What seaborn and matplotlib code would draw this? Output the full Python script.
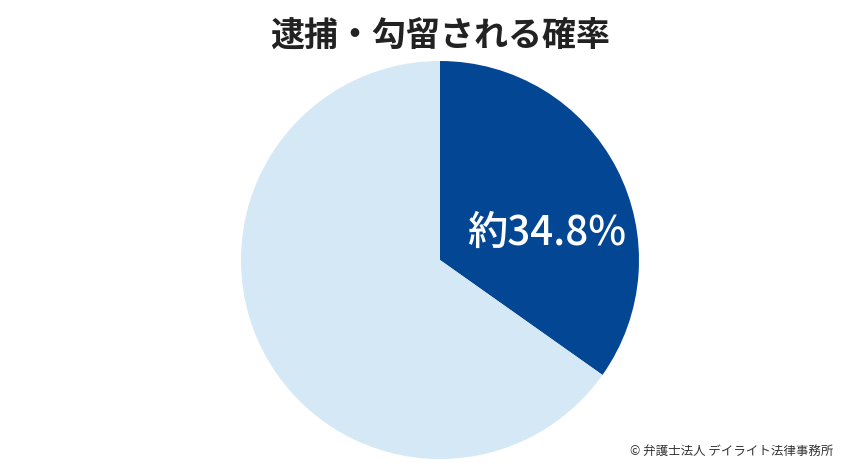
import matplotlib
matplotlib.use("Agg")
import matplotlib.pyplot as plt
import seaborn as sns

title = "逮捕・勾留される確率"
labels = ["逮捕・勾留される", "それ以外"]
shares = [34.8, 65.2]
colors = ["#034694", "#d4e8f6"]
value_label = "約34.8%"
credit = "© 弁護士法人 デイライト法律事務所"

sns.set_theme(style="white")
plt.rcParams['font.family'] = ['Noto Sans CJK JP', 'DejaVu Sans']

fig = plt.figure(figsize=(8.5, 4.69), dpi=100)
W, H = 850, 469
cx, cy, r = 440, 260, 199
ax = fig.add_axes([(cx - r) / W, (H - cy - r) / H, 2 * r / W, 2 * r / H])

ax.pie(shares, colors=colors, startangle=90, counterclock=False,
       radius=1, wedgeprops=dict(linewidth=0))
ax.set_xlim(-1, 1)
ax.set_ylim(-1, 1)
ax.set_aspect("equal")
ax.axis("off")

# label inside the dark slice
ax.text(0.535, 0.135, value_label, color="white", fontsize=29,
        fontweight="medium", ha="center", va="center")

fig.text(440 / W, 1 - 35 / H, title, fontsize=24.5, fontweight="bold",
         color="#222222", ha="center", va="center")
fig.text(833 / W, 1 - 451 / H, credit, fontsize=9, color="#333333",
         ha="right", va="center")

plt.savefig("out.png", dpi=100)
